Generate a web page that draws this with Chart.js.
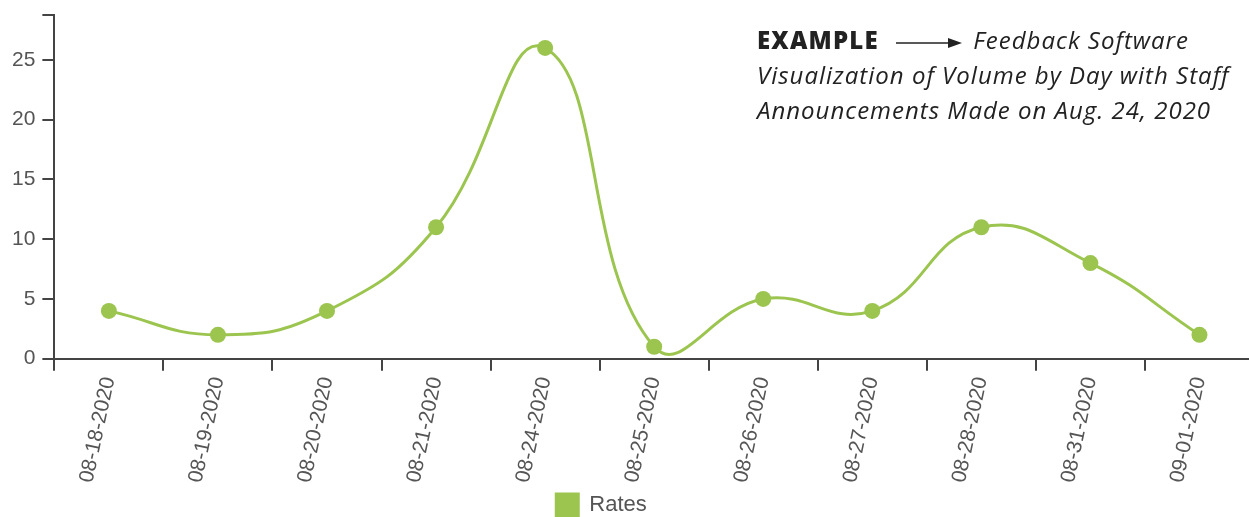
<!DOCTYPE html>
<html>
<head>
<meta charset="utf-8">
<script src="https://cdn.jsdelivr.net/npm/chart.js@4"></script>
<style>
  body { margin: 0; background: #fff; }
  #wrap { position: relative; width: 1249px; height: 517px; overflow: hidden; }
  #chart { display: block; margin-top: -3px; }
  #note {
    position: absolute; left: 757px; top: 22px;
    font-family: "Open Sans", Lato, sans-serif; font-size: 24px; line-height: 35px;
    color: #222; white-space: nowrap; letter-spacing: 1px;
  }
  #note b { font-weight: 800; letter-spacing: 1.2px; }
  #note i { font-weight: 400; }
</style>
</head>
<body>
<div id="wrap">
  <canvas id="chart" width="1262" height="529"></canvas>
  <div id="note"><b>EXAMPLE</b> <svg width="70" height="14" style="vertical-align:middle;margin:0 2px 0 8px"><line x1="2" y1="7" x2="56" y2="7" stroke="#222" stroke-width="1.5"/><polygon points="54,2 68,7 54,12" fill="#222"/></svg> <i>Feedback Software</i><br><i>Visualization of Volume by Day with Staff</i><br><i>Announcements Made on Aug. 24, 2020</i></div>
</div>
<script>
const days = ['08-18-2020', '08-19-2020', '08-20-2020', '08-21-2020', '08-24-2020', '08-25-2020',
              '08-26-2020', '08-27-2020', '08-28-2020', '08-31-2020', '09-01-2020'];
const rates = [4, 2, 4, 11, 26, 1, 5, 4, 11, 8, 2];
const yMax = 28.8;

const green = '#9cc550';
const axisColor = '#444';

// nudge the legend a little left of centre, like the original
const legendShift = {
  id: 'legendShift',
  afterLayout(chart) {
    chart.legend.left -= 32;
    chart.legend.right -= 32;
  }
};

new Chart(document.getElementById('chart'), {
  type: 'line',
  data: {
    labels: days,
    datasets: [{
      label: 'Rates',
      data: rates,
      borderColor: green,
      backgroundColor: green,
      pointBackgroundColor: green,
      pointBorderWidth: 0,
      pointRadius: 8,
      borderWidth: 3,
      tension: 0.45,
      fill: false
    }]
  },
  options: {
    responsive: false,
    animation: false,
    elements: { line: { capBezierPoints: false } },
    layout: { padding: { left: 5, top: 4, right: 0, bottom: 0 } },
    plugins: {
      tooltip: { enabled: false },
      legend: {
        position: 'bottom',
        labels: {
          boxWidth: 22, boxHeight: 22, color: '#555', padding: 5,
          font: { family: 'Liberation Sans, Arial', size: 22 }
        }
      }
    },
    scales: {
      x: {
        offset: true,
        border: { color: axisColor, width: 2 },
        grid: { display: true, drawOnChartArea: false, drawTicks: true, tickLength: 12, color: axisColor, lineWidth: 2, offset: true },
        ticks: {
          color: '#555', minRotation: 78, maxRotation: 78, padding: 4,
          font: { family: 'Liberation Sans, Arial', size: 21 }
        }
      },
      y: {
        min: 0, max: yMax,
        border: { color: axisColor, width: 2 },
        grid: { display: true, drawOnChartArea: false, drawTicks: true, tickLength: 12, color: axisColor, lineWidth: 2 },
        ticks: {
          stepSize: 5, color: '#555', padding: 7,
          font: { family: 'Liberation Sans, Arial', size: 21, lineHeight: 1 },
          callback: v => (v % 5 === 0 ? v : '')
        }
      }
    }
  },
  plugins: [legendShift]
});
</script>
</body>
</html>
